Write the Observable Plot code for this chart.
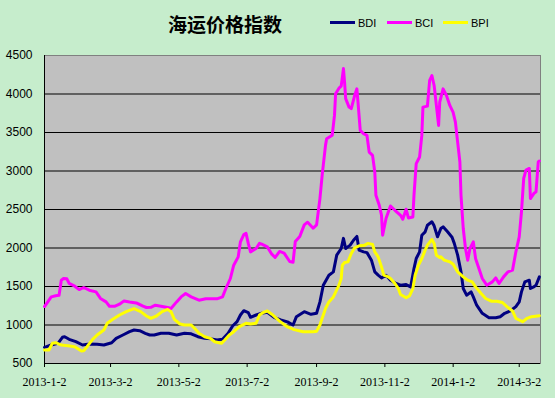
<!DOCTYPE html>
<html><head><meta charset="utf-8">
<script src="https://cdn.jsdelivr.net/npm/d3@7"></script>
<script src="https://cdn.jsdelivr.net/npm/@observablehq/plot@0.6"></script>
<style>
html,body{margin:0;padding:0;background:#c6edcc;}
#wrap{position:relative;width:555px;height:398px;background:#c6edcc;overflow:hidden;}
#head{position:relative;width:555px;height:40px;}
#title{position:absolute;left:225px;top:14px;transform:translateX(-50%);font-family:"Noto Sans CJK SC";font-weight:bold;font-size:19px;line-height:1;white-space:nowrap;color:#000;}
.lg-line{position:absolute;top:21px;width:25px;height:3px;}
.lg-text{position:absolute;top:18px;font-family:"Liberation Sans";font-size:11px;line-height:1;color:#000;}
#chart svg{display:block;}
</style>
</head><body>
<div id="wrap"><div id="head"><div id="title"></div></div><div id="chart"></div></div>
<script>
const chartTitle = "海运价格指数";
const seriesNames = ["BDI", "BCI", "BPI"];
const seriesColors = ["#000080", "#ff00ff", "#ffff00"];
const yTicks = [500, 1000, 1500, 2000, 2500, 3000, 3500, 4000, 4500];
const xTickLabels = ["2013-1-2", "2013-3-2", "2013-5-2", "2013-7-2", "2013-9-2", "2013-11-2", "2014-1-2", "2014-3-2"];
const xDomain = ["2013-01-02", "2014-03-21"];

const bdiDates = ["2013-01-02","2013-01-08","2013-01-14","2013-01-18","2013-01-20","2013-01-24","2013-01-30","2013-02-05","2013-02-11","2013-02-18","2013-02-24","2013-03-03","2013-03-07","2013-03-13","2013-03-19","2013-03-23","2013-03-28","2013-04-02","2013-04-06","2013-04-10","2013-04-16","2013-04-23","2013-04-30","2013-05-07","2013-05-13","2013-05-19","2013-05-25","2013-05-31","2013-06-05","2013-06-10","2013-06-15","2013-06-19","2013-06-23","2013-06-26","2013-06-29","2013-07-03","2013-07-05","2013-07-10","2013-07-15","2013-07-20","2013-07-26","2013-08-01","2013-08-07","2013-08-12","2013-08-15","2013-08-22","2013-08-28","2013-09-02","2013-09-05","2013-09-08","2013-09-13","2013-09-17","2013-09-20","2013-09-24","2013-09-26","2013-09-28","2013-10-02","2013-10-05","2013-10-08","2013-10-10","2013-10-14","2013-10-17","2013-10-21","2013-10-24","2013-10-27","2013-10-30","2013-11-03","2013-11-07","2013-11-12","2013-11-16","2013-11-21","2013-11-25","2013-11-28","2013-11-30","2013-12-03","2013-12-05","2013-12-08","2013-12-10","2013-12-14","2013-12-16","2013-12-19","2013-12-22","2013-12-24","2013-12-28","2014-01-01","2014-01-03","2014-01-06","2014-01-09","2014-01-11","2014-01-14","2014-01-18","2014-01-20","2014-01-23","2014-01-28","2014-02-03","2014-02-09","2014-02-13","2014-02-17","2014-02-22","2014-02-27","2014-03-02","2014-03-04","2014-03-07","2014-03-11","2014-03-12","2014-03-15","2014-03-17","2014-03-20"];
const bdiValues = [710,740,762,840,848,814,783,740,753,749,740,770,827,870,913,935,926,892,870,870,892,892,870,892,885,848,827,820,805,814,892,987,1043,1130,1186,1160,1100,1130,1152,1165,1100,1065,1040,1000,1108,1173,1139,1152,1300,1517,1647,1690,1907,1994,2125,1994,2037,2101,2150,1972,1950,1940,1842,1690,1647,1612,1647,1582,1539,1517,1525,1495,1734,1864,1950,2166,2210,2296,2340,2288,2145,2253,2275,2210,2140,2060,1907,1690,1474,1387,1430,1365,1257,1152,1095,1095,1108,1152,1182,1238,1300,1430,1560,1582,1474,1495,1517,1625];

const bciDates = ["2013-01-02","2013-01-08","2013-01-12","2013-01-15","2013-01-17","2013-01-19","2013-01-22","2013-01-24","2013-01-29","2013-02-02","2013-02-06","2013-02-11","2013-02-17","2013-02-21","2013-02-26","2013-03-01","2013-03-06","2013-03-10","2013-03-14","2013-03-19","2013-03-25","2013-03-31","2013-04-03","2013-04-07","2013-04-11","2013-04-16","2013-04-22","2013-04-25","2013-04-30","2013-05-04","2013-05-08","2013-05-13","2013-05-20","2013-05-26","2013-06-05","2013-06-10","2013-06-13","2013-06-17","2013-06-20","2013-06-24","2013-06-26","2013-06-29","2013-07-01","2013-07-03","2013-07-05","2013-07-10","2013-07-13","2013-07-15","2013-07-20","2013-07-24","2013-07-27","2013-07-31","2013-08-04","2013-08-09","2013-08-12","2013-08-14","2013-08-18","2013-08-22","2013-08-25","2013-08-30","2013-09-02","2013-09-05","2013-09-07","2013-09-08","2013-09-10","2013-09-11","2013-09-16","2013-09-18","2013-09-19","2013-09-22","2013-09-24","2013-09-26","2013-09-27","2013-09-28","2013-10-01","2013-10-03","2013-10-06","2013-10-08","2013-10-09","2013-10-11","2013-10-14","2013-10-17","2013-10-19","2013-10-22","2013-10-24","2013-10-25","2013-10-28","2013-10-30","2013-10-31","2013-11-03","2013-11-07","2013-11-11","2013-11-16","2013-11-18","2013-11-21","2013-11-23","2013-11-27","2013-11-28","2013-11-30","2013-12-03","2013-12-05","2013-12-06","2013-12-10","2013-12-12","2013-12-14","2013-12-16","2013-12-18","2013-12-20","2013-12-21","2013-12-24","2013-12-27","2013-12-30","2014-01-02","2014-01-04","2014-01-06","2014-01-08","2014-01-09","2014-01-11","2014-01-13","2014-01-15","2014-01-17","2014-01-20","2014-01-22","2014-01-25","2014-01-28","2014-02-01","2014-02-06","2014-02-09","2014-02-12","2014-02-16","2014-02-20","2014-02-24","2014-02-27","2014-03-02","2014-03-04","2014-03-06","2014-03-08","2014-03-11","2014-03-12","2014-03-15","2014-03-17","2014-03-19","2014-03-20"];
const bciValues = [1240,1365,1380,1385,1582,1604,1600,1540,1504,1460,1487,1452,1430,1345,1300,1244,1244,1270,1313,1300,1287,1244,1227,1230,1257,1244,1227,1214,1300,1365,1409,1365,1322,1340,1340,1365,1474,1604,1777,1885,2080,2175,2190,2060,1950,1994,2060,2050,2015,1920,1877,1955,1933,1825,1816,2084,2150,2300,2335,2257,2300,2642,2946,3076,3336,3420,3465,3722,4003,4076,4102,4330,4154,3940,3830,3810,3980,4067,3894,3527,3484,3462,3246,3203,2987,2684,2555,2425,2166,2382,2546,2490,2425,2373,2503,2390,2403,2684,3095,3182,3462,3830,3843,4176,4240,4110,3852,3592,3894,4067,3980,3852,3760,3635,3376,3117,2684,2253,1994,1842,1994,2080,1864,1734,1604,1517,1560,1612,1539,1625,1690,1712,1950,2145,2470,2903,3011,3033,2642,2707,2729,3117,3130];

const bpiDates = ["2013-01-02","2013-01-06","2013-01-09","2013-01-12","2013-01-17","2013-01-23","2013-01-29","2013-02-04","2013-02-06","2013-02-09","2013-02-14","2013-02-18","2013-02-24","2013-02-27","2013-03-04","2013-03-10","2013-03-16","2013-03-23","2013-03-29","2013-04-03","2013-04-07","2013-04-12","2013-04-17","2013-04-22","2013-04-25","2013-04-28","2013-05-03","2013-05-07","2013-05-13","2013-05-16","2013-05-20","2013-05-25","2013-05-30","2013-06-03","2013-06-09","2013-06-12","2013-06-16","2013-06-20","2013-06-25","2013-07-01","2013-07-05","2013-07-10","2013-07-13","2013-07-16","2013-07-20","2013-07-24","2013-07-31","2013-08-07","2013-08-13","2013-08-21","2013-08-30","2013-09-02","2013-09-05","2013-09-07","2013-09-10","2013-09-13","2013-09-17","2013-09-22","2013-09-24","2013-09-25","2013-09-27","2013-09-30","2013-10-03","2013-10-06","2013-10-10","2013-10-15","2013-10-18","2013-10-22","2013-10-24","2013-10-27","2013-10-30","2013-11-01","2013-11-05","2013-11-07","2013-11-11","2013-11-14","2013-11-16","2013-11-21","2013-11-24","2013-11-27","2013-11-29","2013-12-02","2013-12-05","2013-12-08","2013-12-10","2013-12-14","2013-12-16","2013-12-18","2013-12-21","2013-12-22","2013-12-25","2013-12-30","2014-01-02","2014-01-06","2014-01-11","2014-01-15","2014-01-19","2014-01-22","2014-01-27","2014-01-31","2014-02-05","2014-02-10","2014-02-15","2014-02-19","2014-02-24","2014-02-27","2014-03-02","2014-03-05","2014-03-09","2014-03-13","2014-03-20"];
const bpiValues = [675,675,762,770,740,731,718,662,665,718,814,870,935,1022,1074,1130,1173,1214,1173,1117,1087,1117,1173,1203,1173,1074,1013,1000,1000,957,892,848,827,783,762,805,870,913,978,1022,1013,1022,1130,1160,1182,1140,1050,975,940,913,913,920,1000,1087,1214,1300,1365,1517,1604,1777,1812,1820,1929,2002,2028,2037,2060,2045,1950,1885,1755,1647,1625,1604,1539,1474,1396,1353,1379,1474,1647,1777,1864,1972,2037,2110,2060,1907,1877,1885,1842,1820,1790,1690,1625,1582,1560,1495,1409,1344,1309,1309,1292,1238,1182,1087,1065,1043,1087,1108,1121];

const parse = d3.utcParse("%Y-%m-%d");
const fmt = d3.utcFormat("%Y-%-m-%-d");
const xTicks = xTickLabels.map(parse);
const toRows = (dates, values) => dates.map((d, i) => ({date: parse(d), value: values[i]}));
const series = [toRows(bdiDates, bdiValues), toRows(bciDates, bciValues), toRows(bpiDates, bpiValues)];

document.getElementById("title").textContent = chartTitle;
const head = document.getElementById("head");
const lgLeft = [330, 387, 443];
seriesNames.forEach((name, i) => {
  const ln = document.createElement("div");
  ln.className = "lg-line";
  ln.style.left = lgLeft[i] + "px";
  ln.style.background = seriesColors[i];
  head.appendChild(ln);
  const tx = document.createElement("div");
  tx.className = "lg-text";
  tx.style.left = (lgLeft[i] + 28) + "px";
  tx.textContent = name;
  head.appendChild(tx);
});

const x0 = parse(xDomain[0]);
const chart = Plot.plot({
  width: 555,
  height: 358,
  marginTop: 15,
  marginBottom: 35,
  marginLeft: 44,
  marginRight: 15,
  style: {background: "transparent", fontFamily: "Liberation Sans", fontSize: "12px", color: "#000"},
  x: {type: "utc", domain: xDomain.map(parse)},
  y: {domain: [yTicks[0], yTicks[yTicks.length - 1]]},
  marks: [
    Plot.frame({fill: "#c0c0c0"}),
    Plot.ruleY(yTicks.slice(1, -1), {stroke: "#000", strokeWidth: 1}),
    Plot.frame({stroke: "#808080"}),
    Plot.ruleX([x0], {stroke: "#000"}),
    Plot.ruleY([yTicks[0]], {stroke: "#000"}),
    Plot.axisY({ticks: yTicks, tickFormat: d => String(d), tickSize: 0, tickPadding: 12, fontFamily: "Liberation Sans", fontSize: 12, label: null}),
    Plot.axisX({ticks: xTicks, tickFormat: fmt, tickSize: 4, tickPadding: 10, fontFamily: "Liberation Serif", fontSize: 12, label: null}),
    ...series.map((rows, i) => Plot.line(rows, {x: "date", y: "value", stroke: seriesColors[i], strokeWidth: 3, strokeLinejoin: "round"}))
  ]
});
document.getElementById("chart").appendChild(chart);
</script>
</body></html>
